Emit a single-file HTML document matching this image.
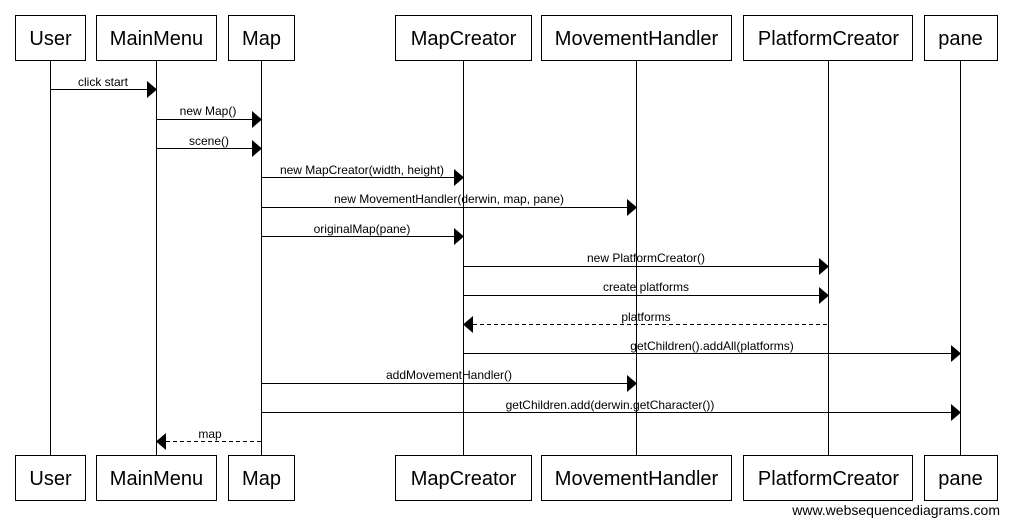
<!DOCTYPE html>
<html><head><meta charset="utf-8"><style>body{margin:0;background:#fff}svg{display:block}text{font-family:"Liberation Sans",Arial,sans-serif}</style></head><body>
<svg width="1012" height="524" xmlns="http://www.w3.org/2000/svg">
<g stroke="#000" stroke-width="1" fill="none">
<line x1="50.5" y1="60" x2="50.5" y2="455"/>
<line x1="156.5" y1="60" x2="156.5" y2="455"/>
<line x1="261.5" y1="60" x2="261.5" y2="455"/>
<line x1="463.5" y1="60" x2="463.5" y2="455"/>
<line x1="636.5" y1="60" x2="636.5" y2="455"/>
<line x1="828.5" y1="60" x2="828.5" y2="455"/>
<line x1="960.5" y1="60" x2="960.5" y2="455"/>
</g>
<g fill="#fff" stroke="#000" stroke-width="1">
<rect x="15.5" y="15.5" width="70" height="45"/>
<rect x="96.5" y="15.5" width="120" height="45"/>
<rect x="228.5" y="15.5" width="66" height="45"/>
<rect x="395.5" y="15.5" width="136" height="45"/>
<rect x="541.5" y="15.5" width="190" height="45"/>
<rect x="743.5" y="15.5" width="169" height="45"/>
<rect x="924.5" y="15.5" width="73" height="45"/>
<rect x="15.5" y="455.5" width="70" height="45"/>
<rect x="96.5" y="455.5" width="120" height="45"/>
<rect x="228.5" y="455.5" width="66" height="45"/>
<rect x="395.5" y="455.5" width="136" height="45"/>
<rect x="541.5" y="455.5" width="190" height="45"/>
<rect x="743.5" y="455.5" width="169" height="45"/>
<rect x="924.5" y="455.5" width="73" height="45"/>
</g>
<g font-size="20" text-anchor="middle" fill="#000">
<text x="50.5" y="45">User</text><text x="156.5" y="45">MainMenu</text><text x="261.5" y="45">Map</text>
<text x="463.5" y="45">MapCreator</text><text x="636.5" y="45">MovementHandler</text><text x="828.5" y="45">PlatformCreator</text><text x="960.5" y="45">pane</text>
<text x="50.5" y="485">User</text><text x="156.5" y="485">MainMenu</text><text x="261.5" y="485">Map</text>
<text x="463.5" y="485">MapCreator</text><text x="636.5" y="485">MovementHandler</text><text x="828.5" y="485">PlatformCreator</text><text x="960.5" y="485">pane</text>
</g>
<g stroke="#000" stroke-width="1">
<line x1="50" y1="89.5" x2="147" y2="89.5"/>
<line x1="156" y1="119.5" x2="252" y2="119.5"/>
<line x1="156" y1="148.5" x2="252" y2="148.5"/>
<line x1="261" y1="177.5" x2="454" y2="177.5"/>
<line x1="261" y1="207.5" x2="627" y2="207.5"/>
<line x1="261" y1="236.5" x2="454" y2="236.5"/>
<line x1="463" y1="266.5" x2="819" y2="266.5"/>
<line x1="463" y1="295.5" x2="819" y2="295.5"/>
<line x1="473" y1="324.5" x2="828" y2="324.5" stroke-dasharray="4,3"/>
<line x1="463" y1="353.5" x2="951" y2="353.5"/>
<line x1="261" y1="383.5" x2="627" y2="383.5"/>
<line x1="261" y1="412.5" x2="951" y2="412.5"/>
<line x1="166" y1="441.5" x2="261" y2="441.5" stroke-dasharray="4,3"/>
</g>
<g fill="#000">
<polygon points="147,81 157,89.5 147,98"/>
<polygon points="252,111 262,119.5 252,128"/>
<polygon points="252,140 262,148.5 252,157"/>
<polygon points="454,169 464,177.5 454,186"/>
<polygon points="627,199 637,207.5 627,216"/>
<polygon points="454,228 464,236.5 454,245"/>
<polygon points="819,258 829,266.5 819,275"/>
<polygon points="819,287 829,295.5 819,304"/>
<polygon points="473,316 463,324.5 473,333"/>
<polygon points="951,345 961,353.5 951,362"/>
<polygon points="627,375 637,383.5 627,392"/>
<polygon points="951,404 961,412.5 951,421"/>
<polygon points="166,433 156,441.5 166,450"/>
</g>
<g font-size="12" text-anchor="middle" fill="#000">
<text x="103" y="86">click start</text>
<text x="208" y="115">new Map()</text>
<text x="209" y="145">scene()</text>
<text x="362" y="174">new MapCreator(width, height)</text>
<text x="449" y="203">new MovementHandler(derwin, map, pane)</text>
<text x="362" y="233">originalMap(pane)</text>
<text x="646" y="262">new PlatformCreator()</text>
<text x="646" y="291">create platforms</text>
<text x="646" y="321">platforms</text>
<text x="712" y="350">getChildren().addAll(platforms)</text>
<text x="449" y="379">addMovementHandler()</text>
<text x="610" y="409">getChildren.add(derwin.getCharacter())</text>
<text x="210" y="438">map</text>
</g>
<text x="1000" y="515" font-size="14" text-anchor="end" fill="#000">www.websequencediagrams.com</text>
</svg>
</body></html>
